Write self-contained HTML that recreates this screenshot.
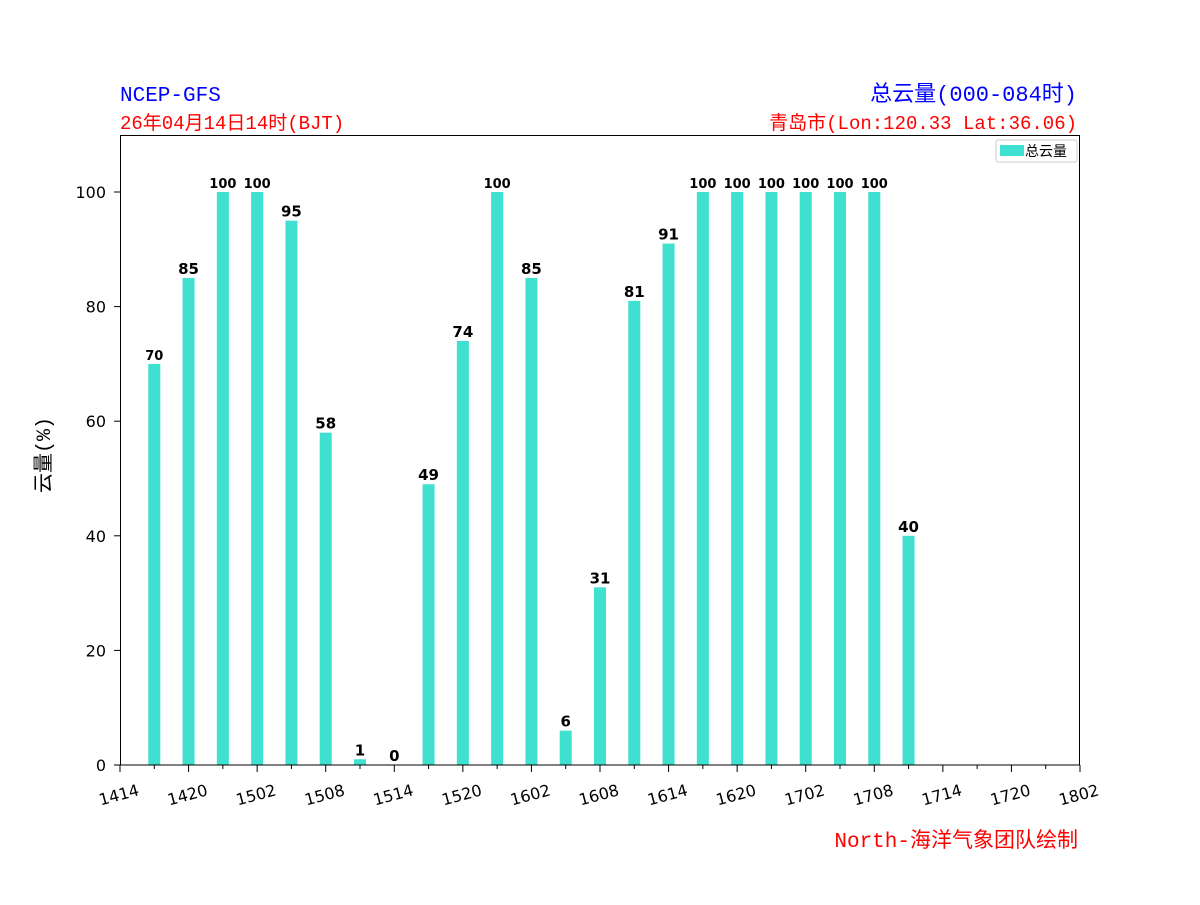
<!DOCTYPE html>
<html><head><meta charset="utf-8"><style>body{margin:0;background:#fff}</style></head><body>
<svg width="1200" height="900" xmlns="http://www.w3.org/2000/svg" font-family="'DejaVu Sans','Noto Sans CJK SC',sans-serif">
<rect width="1200" height="900" fill="#fff"/>
<g font-family="'Liberation Mono','Noto Sans CJK SC',monospace">
<text x="120" y="101" font-size="21" fill="#0000ff">NCEP-GFS</text>
<text x="1077" y="101" font-size="22" fill="#0000ff" text-anchor="end">总云量(000-084时)</text>
<text x="120" y="129" font-size="19" fill="#ff0000">26年04月14日14时(BJT)</text>
<text x="1077" y="129" font-size="19" fill="#ff0000" text-anchor="end">青岛市(Lon:120.33 Lat:36.06)</text>
<text x="1078" y="847" font-size="21" fill="#ff0000" text-anchor="end">North-海洋气象团队绘制</text>
<text transform="translate(50,455) rotate(-90)" font-size="20" text-anchor="middle" fill="#000">云量(%)</text>
</g>
<g id="bars"></g>
<rect x="120.5" y="135.5" width="959" height="629.5" fill="none" stroke="#000" stroke-width="1"/>
<g id="ax" font-size="16" fill="#000"></g>
<rect x="996" y="140" width="81" height="22" fill="#fff" stroke="#ccc" rx="2"/>
<rect x="1000" y="145" width="24" height="11" fill="#40e0d0"/>
<text x="1025" y="156" font-size="14" font-family="'Noto Sans CJK SC',sans-serif">总云量</text>
</svg>
<script>
const ns="http://www.w3.org/2000/svg";
const vals=[70,85,100,100,95,58,1,0,49,74,100,85,6,31,81,91,100,100,100,100,100,100,40];
const b=document.getElementById('bars'),ax=document.getElementById('ax');
function el(t,a,p,txt){const e=document.createElementNS(ns,t);for(const k in a)e.setAttribute(k,a[k]);if(txt!==undefined)e.textContent=txt;p.appendChild(e);return e;}
const sx=960/28, sy=5.73;
vals.forEach((v,i)=>{const x=120+sx*(i+1);const h=v*sy;
el('rect',{x:x-6,y:765-h,width:12,height:h,fill:'#40e0d0'},b);
const fs=(v>=100||v==70)?13:15;
el('text',{x:x,y:765-h-4,'font-size':fs,'font-weight':'bold','text-anchor':'middle'},b,String(v));});
for(let v=0;v<=100;v+=20){const y=765-v*sy;el('line',{x1:114,x2:120,y1:y,y2:y,stroke:'#000'},ax);
el('text',{x:106,y:y+6,'text-anchor':'end'},ax,String(v));}
const labs=['1414','1420','1502','1508','1514','1520','1602','1608','1614','1620','1702','1708','1714','1720','1802'];
for(let i=0;i<=28;i++){const x=120+sx*i;el('line',{x1:x,x2:x,y1:765,y2:i%2?769:772,stroke:'#000'},ax);
if(i%2==0){el('text',{transform:`translate(${x+20},${795}) rotate(-15)`,'text-anchor':'end'},ax,labs[i/2]);}}
</script>
</body></html>
